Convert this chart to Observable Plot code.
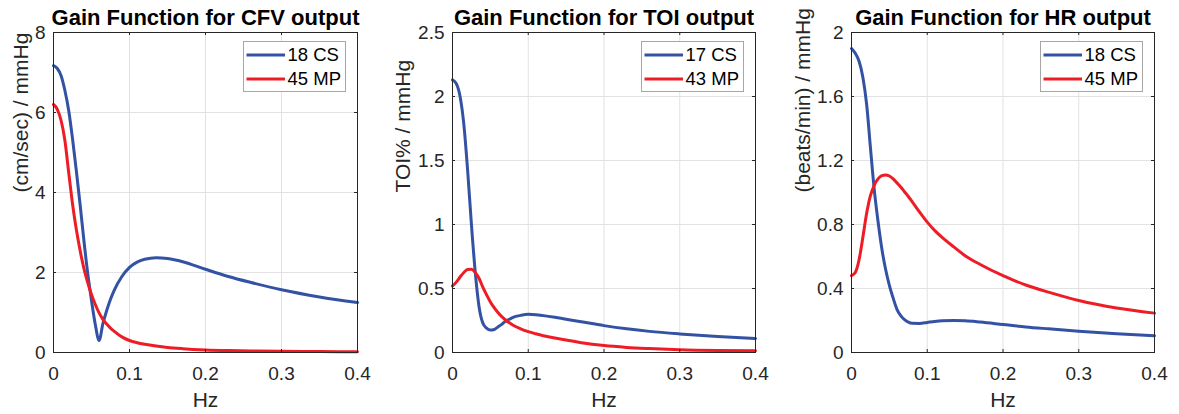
<!DOCTYPE html>
<html><head><meta charset="utf-8">
<script src="https://cdn.jsdelivr.net/npm/d3@7"></script>
<script src="https://cdn.jsdelivr.net/npm/@observablehq/plot@0.6"></script>
<style>
body{margin:0;background:#fff;}
#wrap{position:relative;width:1179px;height:414px;overflow:hidden;font-family:"Liberation Sans",Arial,sans-serif;}
.panel{position:absolute;top:0;}
.legend{position:absolute;background:#fff;border:1px solid #a6a6a6;box-sizing:border-box;}
</style></head><body><div id="wrap"></div><script>
// ---- data ----
const freq = [0, 0.005, 0.01, 0.015, 0.02, 0.025, 0.03, 0.035, 0.04, 0.045, 0.05, 0.055, 0.06, 0.065, 0.07, 0.075, 0.08, 0.09, 0.1, 0.11, 0.12, 0.135, 0.15, 0.17, 0.2, 0.23, 0.26, 0.3, 0.35, 0.4];

const cfvCS = [7.17, 7.1, 6.92, 6.55, 6.05, 5.35, 4.55, 3.7, 2.8, 1.98, 1.3, 0.7, 0.3, 0.72, 1.05, 1.33, 1.56, 1.9, 2.13, 2.26, 2.33, 2.37, 2.35, 2.27, 2.08, 1.9, 1.75, 1.57, 1.39, 1.25];
const cfvMP = [6.2, 6.08, 5.8, 5.3, 4.5, 3.72, 3.08, 2.55, 2.1, 1.75, 1.45, 1.2, 0.99, 0.83, 0.71, 0.61, 0.53, 0.39, 0.3, 0.245, 0.205, 0.16, 0.125, 0.095, 0.065, 0.048, 0.038, 0.03, 0.024, 0.02];

const toiCS = [2.13, 2.1, 2.0, 1.78, 1.42, 1.0, 0.63, 0.36, 0.23, 0.19, 0.175, 0.18, 0.2, 0.22, 0.245, 0.26, 0.275, 0.29, 0.298, 0.295, 0.288, 0.275, 0.26, 0.24, 0.21, 0.185, 0.165, 0.145, 0.125, 0.11];
const toiMP = [0.52, 0.55, 0.59, 0.625, 0.648, 0.65, 0.625, 0.58, 0.51, 0.45, 0.395, 0.35, 0.312, 0.28, 0.254, 0.232, 0.213, 0.185, 0.163, 0.146, 0.131, 0.113, 0.098, 0.077, 0.054, 0.04, 0.031, 0.022, 0.016, 0.013];

const hrCS = [1.9, 1.87, 1.82, 1.72, 1.55, 1.28, 1.02, 0.82, 0.65, 0.52, 0.42, 0.34, 0.27, 0.23, 0.205, 0.19, 0.183, 0.182, 0.188, 0.194, 0.198, 0.2, 0.198, 0.19, 0.175, 0.16, 0.148, 0.133, 0.117, 0.105];
const hrMP = [0.48, 0.5, 0.58, 0.72, 0.87, 0.98, 1.045, 1.085, 1.105, 1.11, 1.103, 1.085, 1.06, 1.035, 1.005, 0.975, 0.943, 0.877, 0.815, 0.762, 0.718, 0.66, 0.605, 0.55, 0.48, 0.422, 0.377, 0.325, 0.278, 0.246];

const xTicks = [0, 0.1, 0.2, 0.3, 0.4];
const xTickLabels = ["0", "0.1", "0.2", "0.3", "0.4"];
const cfvTicks = [0, 2, 4, 6, 8];
const cfvTickLabels = ["0", "2", "4", "6", "8"];
const toiTicks = [0, 0.5, 1, 1.5, 2, 2.5];
const toiTickLabels = ["0", "0.5", "1", "1.5", "2", "2.5"];
const hrTicks = [0, 0.4, 0.8, 1.2, 1.6, 2];
const hrTickLabels = ["0", "0.4", "0.8", "1.2", "1.6", "2"];

const titles = ["Gain Function for CFV output", "Gain Function for TOI output", "Gain Function for HR output"];
const yLabels = ["(cm/sec) / mmHg", "TOI% / mmHg", "(beats/min) / mmHg"];
const xLabel = "Hz";
const legendCFV = ["18 CS", "45 MP"];
const legendTOI = ["17 CS", "43 MP"];
const legendHR = ["18 CS", "45 MP"];

// ---- style ----
const BLUE = "#3352a4", RED = "#ee1c25", AX = "#262626", GRID = "#e2e2e2";
const H = 414, MT = 32, MB = 62;
const FONT = '"Liberation Sans", Arial, sans-serif';

const panels = [
  {left: 0, width: 390, ml: 53, mr: 33, cs: cfvCS, mp: cfvMP, ydom: [0, 8], yt: cfvTicks, ytl: cfvTickLabels, title: titles[0], ylab: yLabels[0], ylx: -32, leg: legendCFV},
  {left: 390, width: 392, ml: 62, mr: 27, cs: toiCS, mp: toiMP, ydom: [0, 2.5], yt: toiTicks, ytl: toiTickLabels, title: titles[1], ylab: yLabels[1], ylx: -49.5, leg: legendTOI},
  {left: 782, width: 397, ml: 69, mr: 25, cs: hrCS, mp: hrMP, ydom: [0, 2], yt: hrTicks, ytl: hrTickLabels, title: titles[2], ylab: yLabels[2], ylx: -48.5, leg: legendHR}
];

const wrap = document.getElementById("wrap");
for (const p of panels) {
  const iw = p.width - p.ml - p.mr, ih = H - MT - MB;
  const csData = freq.map((f, i) => ({f, v: p.cs[i]}));
  const mpData = freq.map((f, i) => ({f, v: p.mp[i]}));
  const chart = Plot.plot({
    width: p.width, height: H,
    marginLeft: p.ml, marginRight: p.mr, marginTop: MT, marginBottom: MB,
    style: {fontFamily: FONT, fontSize: "19px", color: AX, background: "transparent", overflow: "visible"},
    x: {domain: [0, 0.4], label: null},
    y: {domain: p.ydom, label: null},
    marks: [
      Plot.gridX(xTicks, {stroke: GRID, strokeOpacity: 1}),
      Plot.gridY(p.yt, {stroke: GRID, strokeOpacity: 1}),
      Plot.lineY(csData, {x: "f", y: "v", stroke: BLUE, strokeWidth: 3, curve: "monotone-x"}),
      Plot.lineY(mpData, {x: "f", y: "v", stroke: RED, strokeWidth: 3, curve: "monotone-x"}),
      Plot.ruleX(xTicks, {stroke: AX, insetTop: ih - 3}),
      Plot.ruleX(xTicks, {stroke: AX, insetBottom: ih - 3}),
      Plot.ruleY(p.yt, {stroke: AX, insetRight: iw - 3}),
      Plot.ruleY(p.yt, {stroke: AX, insetLeft: iw - 3}),
      Plot.frame({stroke: AX}),
      Plot.axisX(xTicks, {tickSize: 0, tickPadding: 14, tickFormat: d => xTickLabels[xTicks.indexOf(d)], label: null, fontSize: 19}),
      Plot.axisY(p.yt, {tickSize: 0, tickPadding: 8, tickFormat: d => p.ytl[p.yt.indexOf(d)], label: null, fontSize: 19}),
      Plot.text([p.title], {text: d => d, frameAnchor: "top", dy: -8, lineAnchor: "bottom", fontWeight: "bold", fontSize: 22, fill: "#000"}),
      Plot.text([xLabel], {text: d => d, frameAnchor: "bottom", dy: 48, lineAnchor: "middle", fontSize: 21}),
      Plot.text([p.ylab], {text: d => d, frameAnchor: "left", dx: p.ylx, rotate: -90, lineAnchor: "middle", fontSize: 21})
    ]
  });
  chart.classList.add("panel");
  chart.style.left = p.left + "px";
  wrap.appendChild(chart);

  // legend box
  const lw = 103, lh = 51;
  const lx = p.left + p.width - p.mr - 11 - lw, ly = MT + 9;
  const leg = document.createElement("div");
  leg.className = "legend";
  leg.style.left = lx + "px"; leg.style.top = ly + "px";
  leg.style.width = lw + "px"; leg.style.height = lh + "px";
  const ns = "http://www.w3.org/2000/svg";
  const s = document.createElementNS(ns, "svg");
  s.setAttribute("width", lw - 2); s.setAttribute("height", lh - 2);
  s.style.display = "block";
  [BLUE, RED].forEach((c, i) => {
    const y = 13 + i * 24;
    const ln = document.createElementNS(ns, "line");
    ln.setAttribute("x1", 2.5); ln.setAttribute("x2", 41); ln.setAttribute("y1", y); ln.setAttribute("y2", y);
    ln.setAttribute("stroke", c); ln.setAttribute("stroke-width", 3);
    s.appendChild(ln);
    const t = document.createElementNS(ns, "text");
    t.setAttribute("x", 43.5); t.setAttribute("y", y); t.setAttribute("dy", "0.34em");
    t.setAttribute("font-family", FONT); t.setAttribute("font-size", "18.5px"); t.setAttribute("fill", "#000");
    t.textContent = p.leg[i];
    s.appendChild(t);
  });
  leg.appendChild(s);
  wrap.appendChild(leg);
}
</script></body></html>
